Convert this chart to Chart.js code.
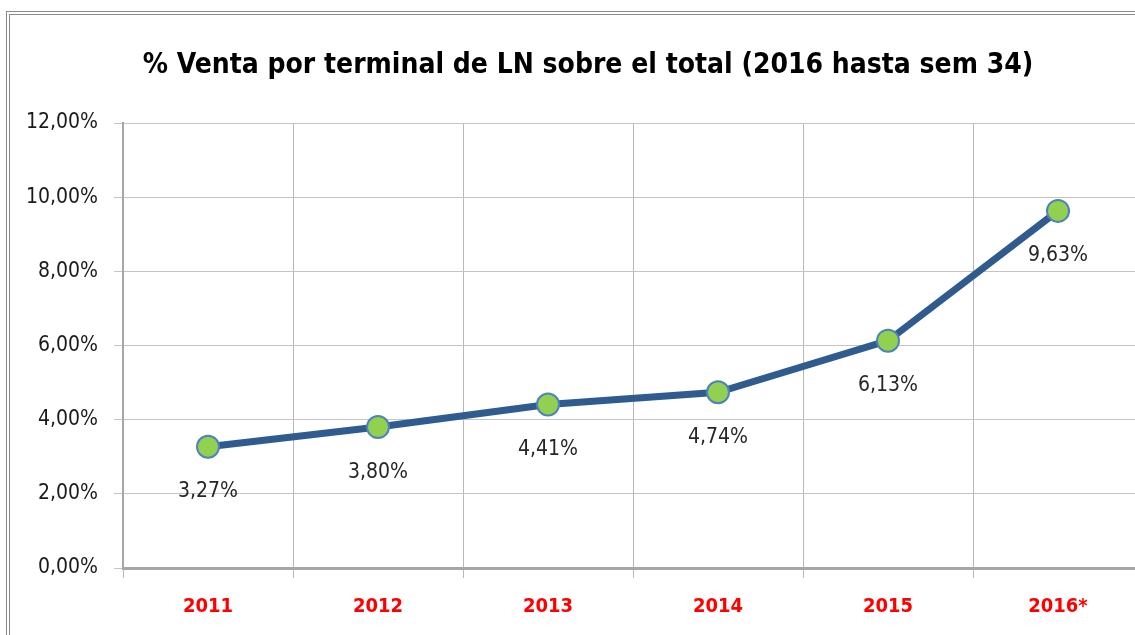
<!DOCTYPE html>
<html>
<head>
<meta charset="utf-8">
<script src="https://cdn.jsdelivr.net/npm/chart.js@4/dist/chart.umd.min.js"></script>
<style>
html,body{margin:0;padding:0;background:#fff;overflow:hidden;width:1135px;height:635px;}
#frame{position:absolute;left:6px;top:11px;width:1300px;height:1000px;border:4px double #8a8a8a;box-sizing:border-box;}
#c{position:absolute;left:0;top:0;}
</style>
</head>
<body>
<div id="frame"></div>
<canvas id="c" width="1160" height="635"></canvas>
<script>
const titleText = '% Venta por terminal de LN sobre el total (2016 hasta sem 34)';
const categories = ['2011', '2012', '2013', '2014', '2015', '2016*'];
const sharePct = [3.27, 3.80, 4.41, 4.74, 6.13, 9.63];
const yTicks = [0, 2, 4, 6, 8, 10, 12];

const FONT = '"DejaVu Sans Condensed", "Liberation Sans", sans-serif';
const fmt = v => v.toFixed(2).replace('.', ',') + '%';

const titlePlugin = {
  id: 'customTitle',
  afterDraw(chart) {
    const ctx = chart.ctx;
    ctx.save();
    ctx.font = 'bold 28px ' + FONT;
    ctx.fillStyle = '#000';
    ctx.textAlign = 'center';
    ctx.textBaseline = 'middle';
    ctx.fillText(titleText, 588, 66);
    ctx.restore();
  }
};

const labelPlugin = {
  id: 'pointLabels',
  afterDatasetsDraw(chart) {
    const ctx = chart.ctx;
    const meta = chart.getDatasetMeta(0);
    ctx.save();
    ctx.font = '21px ' + FONT;
    ctx.fillStyle = '#262626';
    ctx.textAlign = 'center';
    ctx.textBaseline = 'middle';
    meta.data.forEach((pt, i) => {
      ctx.fillText(fmt(sharePct[i]), pt.x, pt.y + 45);
    });
    ctx.restore();
  }
};

new Chart(document.getElementById('c'), {
  type: 'line',
  data: {
    labels: categories,
    datasets: [{
      data: sharePct,
      borderColor: '#2f5b8e',
      borderWidth: 7,
      pointRadius: 11,
      pointHoverRadius: 11,
      pointBackgroundColor: '#92d050',
      pointBorderColor: '#4f81bd',
      pointBorderWidth: 2,
      tension: 0,
      fill: false
    }]
  },
  options: {
    responsive: false,
    animation: false,
    events: [],
    layout: { padding: { left: 16, top: 123, right: 17, bottom: 0 } },
    plugins: {
      legend: { display: false },
      title: { display: false },
      tooltip: { enabled: false }
    },
    scales: {
      x: {
        offset: true,
        grid: { offset: true, color: '#b8b8b8', lineWidth: 1, tickLength: 10 },
        border: { color: '#a6a6a6', width: 3 },
        ticks: {
          color: '#ff0000',
          font: { family: FONT, size: 20, weight: 'bold' },
          padding: 17
        },
        afterFit(s) { s.height = 67; }
      },
      y: {
        min: 0,
        max: 12,
        afterBuildTicks(s) { s.ticks = yTicks.map(v => ({ value: v })); },
        grid: { color: '#c4c4c4', lineWidth: 1, tickLength: 9 },
        border: { color: '#a6a6a6', width: 2 },
        ticks: {
          color: '#1a1a1a',
          font: { family: FONT, size: 21 },
          padding: 16,
          callback: v => fmt(v)
        },
        afterFit(s) { s.width = 107; }
      }
    }
  },
  plugins: [titlePlugin, labelPlugin]
});
</script>
</body>
</html>
